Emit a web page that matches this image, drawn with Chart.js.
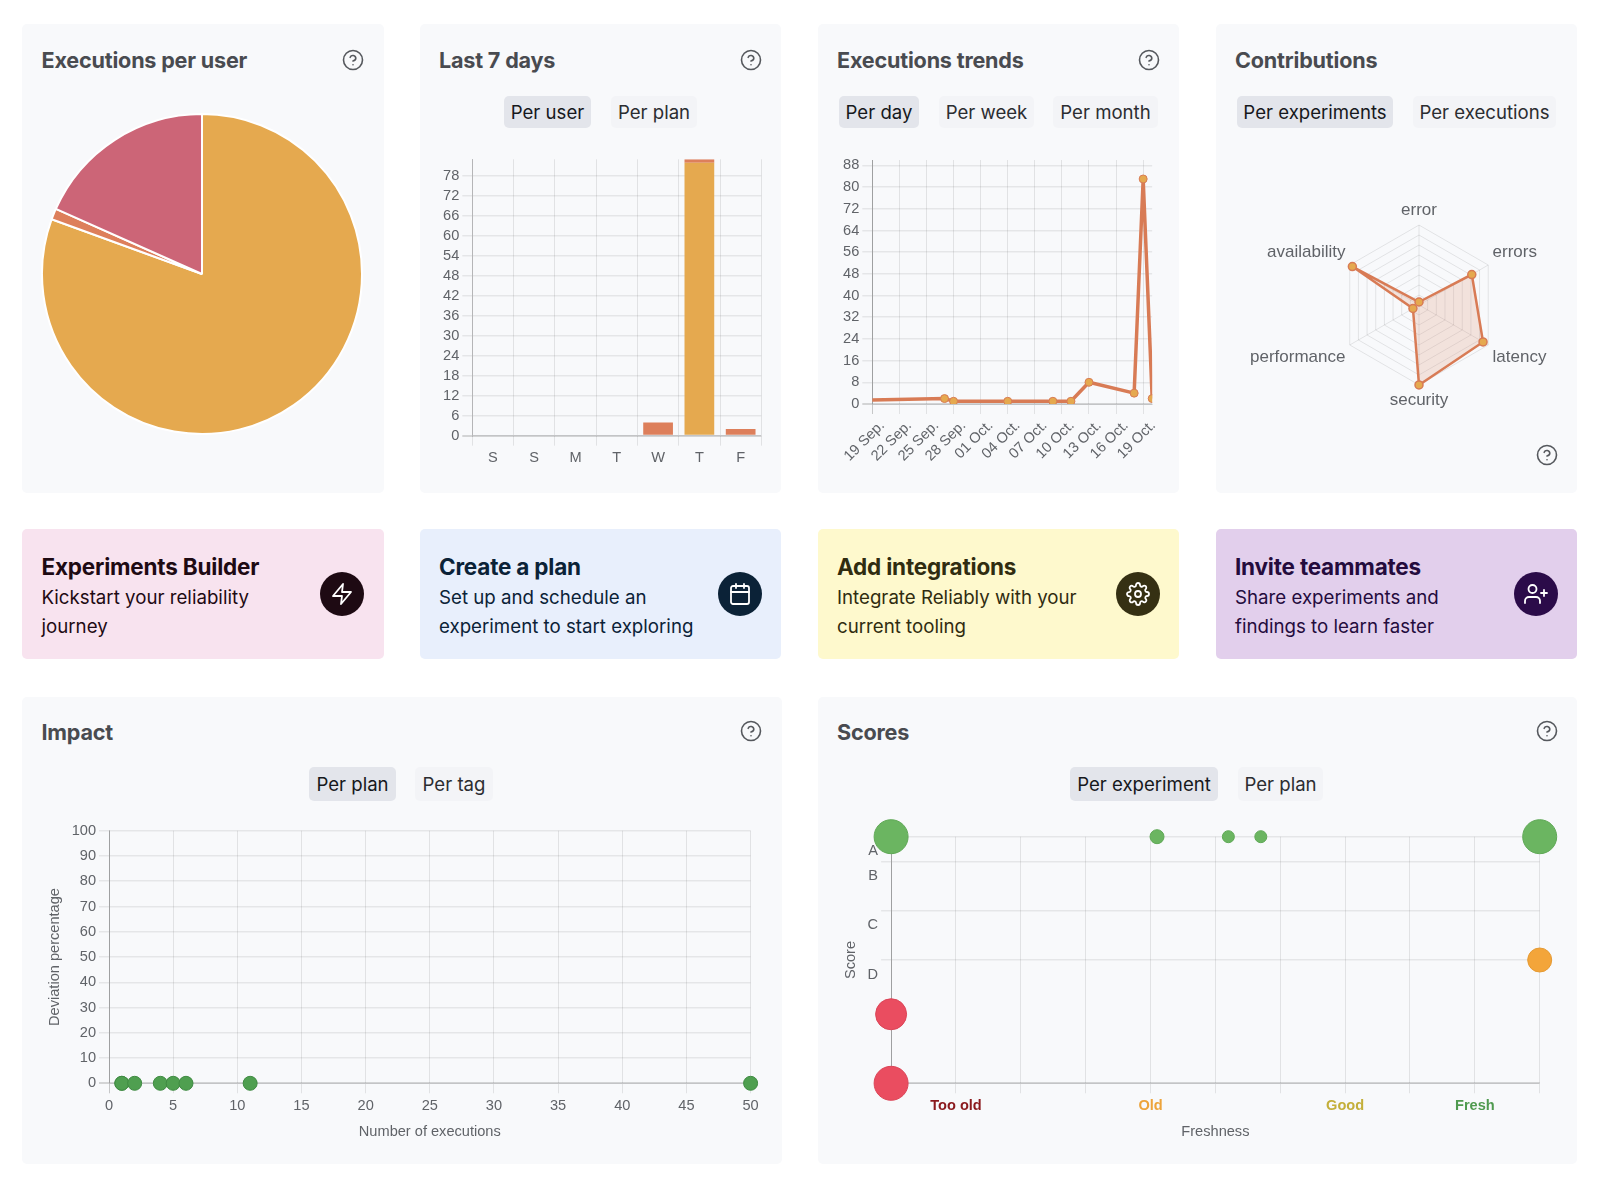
<!DOCTYPE html>
<html>
<head>
<meta charset="utf-8">
<title>Dashboard</title>
<script src="https://cdn.jsdelivr.net/npm/chart.js@4"></script>
<style>
    html, body { margin: 0; padding: 0; background: #fff; }
    body { position: relative; width: 1600px; height: 1186px; overflow: hidden; font-family: Inter, sans-serif; }
    .card { position: absolute; width: 361.5px; background: #f8f9fb; border-radius: 5px; }
    .stat { height: 469px; top: 24px; }
    .wide { width: 759.5px; height: 467px; top: 697px; }
    .cta { height: 130px; top: 529px; }
    .title { position: absolute; left: 19.5px; top: 22px; font-size: 21.6px; line-height: 28px; font-weight: 700; color: #494b50; letter-spacing: -0.2px; white-space: nowrap; }
    .wide .title { top: 21px; }
    .cta h3 { position: absolute; left: 19.5px; top: 22.5px; margin: 0; font-size: 22.5px; line-height: 29px; font-weight: 700; letter-spacing: -0.2px; white-space: nowrap; }
    .cta p { position: absolute; left: 19.5px; top: 53.5px; margin: 0; font-size: 18.7px; line-height: 29.5px; white-space: nowrap; }
    .help { position: absolute; width: 24px; height: 24px; fill: none; stroke: #55585d; stroke-width: 1.6; stroke-linecap: round; stroke-linejoin: round; }
    .tab { position: absolute; top: 71.5px; height: 32.5px; display: flex; align-items: center; justify-content: center; font-size: 18.6px; color: #2b2d31; background: #f3f4f7; border-radius: 5px; white-space: nowrap; }
    .wide .tab { top: 70px; height: 34px; }
    .tab.on { background: #e3e5eb; color: #16181c; }
    .badge { position: absolute; top: 43px; width: 44px; height: 44px; border-radius: 50%; display: flex; align-items: center; justify-content: center; }
    .badge svg { width: 24px; height: 24px; fill: none; stroke: #fff; stroke-width: 1.8; stroke-linecap: round; stroke-linejoin: round; }
    .plot { position: absolute; }
</style>
</head>
<body>
    <svg width="0" height="0" style="position:absolute">
        <symbol id="help" viewBox="0 0 24 24">
            <circle cx="12" cy="12" r="9.5"></circle>
            <path d="M9.2 9.3a2.9 2.9 0 0 1 5.6 1c0 1.9-2.8 2.7-2.8 2.7"></path>
            <line x1="12" y1="16.8" x2="12.01" y2="16.8"></line>
        </symbol>
    </svg>

    <div class="card stat" style="left:22px">
        <div class="title">Executions per user</div>
        <svg class="help" style="left:319px;top:24px"><use href="#help"/></svg>
    </div>
    <div class="card stat" style="left:419.5px">
        <div class="title">Last 7 days</div>
        <svg class="help" style="left:319.5px;top:24px"><use href="#help"/></svg>
        <div class="tab on" style="left:84.5px;width:87px">Per user</div>
        <div class="tab" style="left:191.5px;width:86px">Per plan</div>
    </div>
    <div class="card stat" style="left:817.5px">
        <div class="title">Executions trends</div>
        <svg class="help" style="left:319.5px;top:24px"><use href="#help"/></svg>
        <div class="tab on" style="left:21.5px;width:80px">Per day</div>
        <div class="tab" style="left:121.5px;width:95px">Per week</div>
        <div class="tab" style="left:235.5px;width:105px">Per month</div>
    </div>
    <div class="card stat" style="left:1215.5px">
        <div class="title">Contributions</div>
        <svg class="help" style="left:319.5px;top:419px"><use href="#help"/></svg>
        <div class="tab on" style="left:21.5px;width:156px">Per experiments</div>
        <div class="tab" style="left:197.5px;width:143px">Per executions</div>
    </div>

    <div class="card cta" style="left:22px;background:#f8e3ef;color:#1e0a13">
        <h3>Experiments Builder</h3>
        <p>Kickstart your reliability<br>journey</p>
        <div class="badge" style="left:298px;background:#1e0a13">
            <svg viewBox="0 0 24 24"><polygon points="13 2 3 14 12 14 11 22 21 10 12 10 13 2"></polygon></svg>
        </div>
    </div>
    <div class="card cta" style="left:419.5px;background:#e8effc;color:#0b2237">
        <h3>Create a plan</h3>
        <p>Set up and schedule an<br>experiment to start exploring</p>
        <div class="badge" style="left:298.5px;background:#0b2237">
            <svg viewBox="0 0 24 24"><rect x="3" y="4" width="18" height="18" rx="2"></rect><line x1="16" y1="2" x2="16" y2="6"></line><line x1="8" y1="2" x2="8" y2="6"></line><line x1="3" y1="10" x2="21" y2="10"></line></svg>
        </div>
    </div>
    <div class="card cta" style="left:817.5px;background:#fef9cd;color:#302c10">
        <h3>Add integrations</h3>
        <p>Integrate Reliably with your<br>current tooling</p>
        <div class="badge" style="left:298.5px;background:#353013">
            <svg viewBox="0 0 24 24"><circle cx="12" cy="12" r="3"></circle><path d="M19.4 15a1.65 1.65 0 0 0 .33 1.82l.06.06a2 2 0 0 1 0 2.83 2 2 0 0 1-2.83 0l-.06-.06a1.65 1.65 0 0 0-1.82-.33 1.65 1.65 0 0 0-1 1.51V21a2 2 0 0 1-2 2 2 2 0 0 1-2-2v-.09A1.65 1.65 0 0 0 9 19.4a1.65 1.65 0 0 0-1.82.33l-.06.06a2 2 0 0 1-2.83 0 2 2 0 0 1 0-2.83l.06-.06a1.65 1.65 0 0 0 .33-1.82 1.65 1.65 0 0 0-1.51-1H3a2 2 0 0 1-2-2 2 2 0 0 1 2-2h.09A1.65 1.65 0 0 0 4.6 9a1.65 1.65 0 0 0-.33-1.82l-.06-.06a2 2 0 0 1 0-2.83 2 2 0 0 1 2.83 0l.06.06a1.65 1.65 0 0 0 1.82.33H9a1.65 1.65 0 0 0 1-1.51V3a2 2 0 0 1 2-2 2 2 0 0 1 2 2v.09a1.65 1.65 0 0 0 1 1.51 1.65 1.65 0 0 0 1.82-.33l.06-.06a2 2 0 0 1 2.83 0 2 2 0 0 1 0 2.83l-.06.06a1.65 1.65 0 0 0-.33 1.82V9a1.65 1.65 0 0 0 1.51 1H21a2 2 0 0 1 2 2 2 2 0 0 1-2 2h-.09a1.65 1.65 0 0 0-1.51 1z"></path></svg>
        </div>
    </div>
    <div class="card cta" style="left:1215.5px;background:#e2cfec;color:#240b3d">
        <h3>Invite teammates</h3>
        <p>Share experiments and<br>findings to learn faster</p>
        <div class="badge" style="left:298.5px;background:#2b0b49">
            <svg viewBox="0 0 24 24"><path d="M16 21v-2a4 4 0 0 0-4-4H5a4 4 0 0 0-4 4v2"></path><circle cx="8.5" cy="7" r="4"></circle><line x1="20" y1="8" x2="20" y2="14"></line><line x1="23" y1="11" x2="17" y2="11"></line></svg>
        </div>
    </div>

    <div class="card wide" style="left:22px">
        <div class="title">Impact</div>
        <svg class="help" style="left:717px;top:22px"><use href="#help"/></svg>
        <div class="tab on" style="left:287px;width:87px">Per plan</div>
        <div class="tab" style="left:393px;width:78px">Per tag</div>
    </div>
    <div class="card wide" style="left:817.5px">
        <div class="title">Scores</div>
        <svg class="help" style="left:717.5px;top:22px"><use href="#help"/></svg>
        <div class="tab on" style="left:252.5px;width:148px">Per experiment</div>
        <div class="tab" style="left:420.5px;width:85px">Per plan</div>
    </div>

    <div class="plot" style="left:41px;top:112.5px;width:322px;height:322px"><canvas id="userPie"></canvas></div>
    <div class="plot" style="left:430px;top:150px;width:340px;height:330px"><canvas id="weekBars"></canvas></div>
    <div class="plot" style="left:840px;top:150px;width:330px;height:330px"><canvas id="trendLine"></canvas></div>
    <div class="plot" style="left:1235px;top:196px;width:338px;height:220px"><canvas id="contribRadar"></canvas></div>
    <div class="plot" style="left:42px;top:820px;width:733px;height:325px"><canvas id="impactScatter"></canvas></div>
    <div class="plot" style="left:838px;top:810px;width:722px;height:335px"><canvas id="scoreBubbles"></canvas></div>

<script>
// Executions per user
const pieValues = [145, 2, 33];

// Last 7 days
const dayLabels = ['S', 'S', 'M', 'T', 'W', 'T', 'F'];
const dayOrangeValues = [0, 0, 0, 0, 0, 82, 0];
const dayRedValues = [0, 0, 0, 0, 4, 1, 2];

// Executions trends, x is days after 19 Sep. (first point sits left of the axis)
const trendDateLabels = ['19 Sep.', '22 Sep.', '25 Sep.', '28 Sep.', '01 Oct.', '04 Oct.', '07 Oct.', '10 Oct.', '13 Oct.', '16 Oct.', '19 Oct.'];
const trendDays = [-8, 8, 9, 15, 20, 22, 24, 29, 30, 31];
const trendCounts = [1, 2, 1, 1, 1, 1, 8, 4, 83, 2];

// Contributions
const radarLabels = ['error', 'errors', 'latency', 'security', 'performance', 'availability'];
const radarValues = [3, 61, 74, 80, 7, 77];

// Impact
const impactExecutions = [1, 1, 2, 4, 5, 6, 11, 50];
const impactDeviation = [0, 0, 0, 0, 0, 0, 0, 0];

// Scores
const scoreTickValues = [0, 50, 70, 90, 100];
const scoreTickLabels = ['', 'D', 'C', 'B', 'A'];
const freshnessTickValues = [10, 40, 70, 90];
const freshnessTickLabels = ['Too old', 'Old', 'Good', 'Fresh'];
const freshnessTickColors = ['#8b1a1e', '#eda43b', '#c4af3a', '#4f9a4f'];
const greenFreshness = [0, 41, 52, 57, 100];
const greenScore = [100, 100, 100, 100, 100];
const greenSize = [17, 7, 6, 6, 17];
const orangeFreshness = [100];
const orangeScore = [50];
const orangeSize = [12];
const redFreshness = [0, 0];
const redScore = [28, 0];
const redSize = [15.5, 17];

const ORANGE = '#e5a94f';
const CORAL = '#dd7f5b';
const ROSE = '#cc6577';
const TICK_COLOR = '#606368';
const GRID_COLOR = 'rgba(0, 0, 0, 0.09)';
const ROW_COLOR = 'rgba(0, 0, 0, 0.075)';
const ZERO_COLOR = 'rgba(0, 0, 0, 0.15)';
const AXIS_COLOR = 'rgba(0, 0, 0, 0.2)';
const FONT_FAMILY = '"Liberation Sans", sans-serif';

Chart.defaults.font.family = FONT_FAMILY;
Chart.defaults.font.size = 14.6;
Chart.defaults.color = TICK_COLOR;
Chart.defaults.animation = false;
Chart.defaults.maintainAspectRatio = false;
Chart.defaults.plugins.legend.display = false;
Chart.defaults.plugins.tooltip.enabled = false;

// Pin an axis to a fixed thickness so the plot area lands where it should
function pinAxis(size) {
    return function (scale) {
        if (scale.isHorizontal()) {
            scale.height = size;
        } else {
            scale.width = size;
        }
        scale.paddingLeft = scale.paddingRight = scale.paddingTop = scale.paddingBottom = 0;
    };
}

// Rows are a bit wider and softer than columns, the zero row is the heaviest
function rowGrid() {
    return {
        color: ctx => (ctx.tick && ctx.tick.value === 0 ? ZERO_COLOR : ROW_COLOR),
        lineWidth: ctx => (ctx.tick && ctx.tick.value === 0 ? 2 : 1.5),
        tickLength: 10
    };
}

function columnGrid() {
    return {
        color: ctx => (ctx.tick && ctx.tick.value === 0 ? AXIS_COLOR : GRID_COLOR),
        tickLength: 10
    };
}

const leftBorder = { color: AXIS_COLOR };
const bottomBorder = { color: ROW_COLOR };

function axisTitle(text) {
    return { display: true, text: text, padding: { top: 4, bottom: 4 } };
}

function toPoints(xs, ys, sizes) {
    return xs.map((x, i) => (sizes ? { x: x, y: ys[i], r: sizes[i] } : { x: x, y: ys[i] }));
}

new Chart(document.getElementById('userPie'), {
    type: 'pie',
    data: {
        datasets: [{
            data: pieValues,
            backgroundColor: [ORANGE, CORAL, ROSE],
            borderColor: '#ffffff',
            borderWidth: 2
        }]
    }
});

new Chart(document.getElementById('weekBars'), {
    type: 'bar',
    data: {
        labels: dayLabels,
        datasets: [
            { data: dayOrangeValues, backgroundColor: ORANGE },
            { data: dayRedValues, backgroundColor: CORAL }
        ]
    },
    options: {
        layout: { padding: { right: 8.7, top: 9.3 } },
        scales: {
            x: {
                stacked: true,
                afterFit: pinAxis(44.3),
                grid: { color: GRID_COLOR, tickLength: 10 },
                border: bottomBorder,
                ticks: { autoSkip: false, maxRotation: 0, padding: 4 }
            },
            y: {
                stacked: true,
                min: 0,
                max: 83,
                afterFit: pinAxis(42.3),
                grid: rowGrid(),
                border: leftBorder,
                ticks: { stepSize: 6, includeBounds: false, autoSkip: false }
            }
        }
    }
});

new Chart(document.getElementById('trendLine'), {
    type: 'line',
    data: {
        datasets: [{
            data: toPoints(trendDays, trendCounts),
            borderColor: '#d87b55',
            borderWidth: 3.5,
            pointRadius: 4,
            pointBackgroundColor: ORANGE,
            pointBorderColor: '#d87b55',
            pointBorderWidth: 1
        }]
    },
    options: {
        layout: { padding: { right: 17.8, top: 10 } },
        scales: {
            x: {
                type: 'linear',
                min: 0,
                max: 31,
                afterFit: pinAxis(76),
                grid: columnGrid(),
                border: bottomBorder,
                ticks: {
                    stepSize: 3,
                    includeBounds: false,
                    autoSkip: false,
                    minRotation: 45,
                    maxRotation: 45,
                    labelOffset: 10,
                    callback: value => trendDateLabels[value / 3]
                }
            },
            y: {
                min: 0,
                max: 90,
                afterFit: pinAxis(32.3),
                grid: rowGrid(),
                border: leftBorder,
                ticks: { stepSize: 8, includeBounds: false, autoSkip: false }
            }
        }
    }
});

new Chart(document.getElementById('contribRadar'), {
    type: 'radar',
    data: {
        labels: radarLabels,
        datasets: [{
            data: radarValues,
            borderColor: '#d87b55',
            backgroundColor: 'rgba(216, 123, 85, 0.18)',
            borderWidth: 2.5,
            pointRadius: 4,
            pointBackgroundColor: ORANGE,
            pointBorderColor: '#d87b55',
            pointBorderWidth: 1.5,
            fill: true
        }]
    },
    options: {
        scales: {
            r: {
                min: 0,
                max: 80,
                ticks: { display: false, stepSize: 10 },
                grid: { color: GRID_COLOR },
                angleLines: { color: GRID_COLOR },
                pointLabels: { font: { size: 17 }, color: TICK_COLOR }
            }
        }
    }
});

new Chart(document.getElementById('impactScatter'), {
    type: 'scatter',
    data: {
        datasets: [{
            data: toPoints(impactExecutions, impactDeviation),
            backgroundColor: '#4f9f50',
            borderColor: '#3f8a42',
            borderWidth: 1,
            pointRadius: 7,
            clip: false
        }]
    },
    options: {
        layout: { padding: { right: 24.4, top: 10.7 } },
        scales: {
            x: {
                type: 'linear',
                min: 0,
                max: 50,
                afterFit: pinAxis(61.7),
                title: axisTitle('Number of executions'),
                grid: columnGrid(),
                border: bottomBorder,
                ticks: { stepSize: 5, autoSkip: false, maxRotation: 0, padding: 4 }
            },
            y: {
                min: 0,
                max: 100,
                afterFit: pinAxis(67),
                title: axisTitle('Deviation percentage'),
                grid: rowGrid(),
                border: leftBorder,
                ticks: { stepSize: 10, autoSkip: false }
            }
        }
    }
});

new Chart(document.getElementById('scoreBubbles'), {
    type: 'bubble',
    data: {
        datasets: [
            { data: toPoints(greenFreshness, greenScore, greenSize), backgroundColor: '#6bb561', borderColor: '#5fa856', borderWidth: 1, clip: false },
            { data: toPoints(orangeFreshness, orangeScore, orangeSize), backgroundColor: '#f3a53a', borderColor: '#e59a33', borderWidth: 1, clip: false },
            { data: toPoints(redFreshness, redScore, redSize), backgroundColor: '#ea4d60', borderColor: '#db4557', borderWidth: 1, clip: false }
        ]
    },
    options: {
        layout: { padding: { right: 20.3, top: 26.7 } },
        scales: {
            x: {
                type: 'linear',
                min: 0,
                max: 100,
                afterFit: pinAxis(61.7),
                title: axisTitle('Freshness'),
                grid: columnGrid(),
                border: bottomBorder,
                ticks: {
                    stepSize: 10,
                    autoSkip: false,
                    maxRotation: 0,
                    padding: 4,
                    font: { weight: 'bold', size: 14.6 },
                    color: ctx => freshnessTickColors[freshnessTickValues.indexOf(ctx.tick.value)] || TICK_COLOR,
                    callback: value => {
                        const i = freshnessTickValues.indexOf(value);
                        return i >= 0 ? freshnessTickLabels[i] : '';
                    }
                }
            },
            y: {
                min: 0,
                max: 100,
                afterFit: pinAxis(53.1),
                afterBuildTicks: scale => {
                    scale.ticks = scoreTickValues.map(value => ({ value: value }));
                },
                title: axisTitle('Score'),
                grid: rowGrid(),
                border: leftBorder,
                ticks: {
                    autoSkip: false,
                    labelOffset: 14.5,
                    callback: value => scoreTickLabels[scoreTickValues.indexOf(value)]
                }
            }
        }
    }
});
</script>
</body>
</html>
